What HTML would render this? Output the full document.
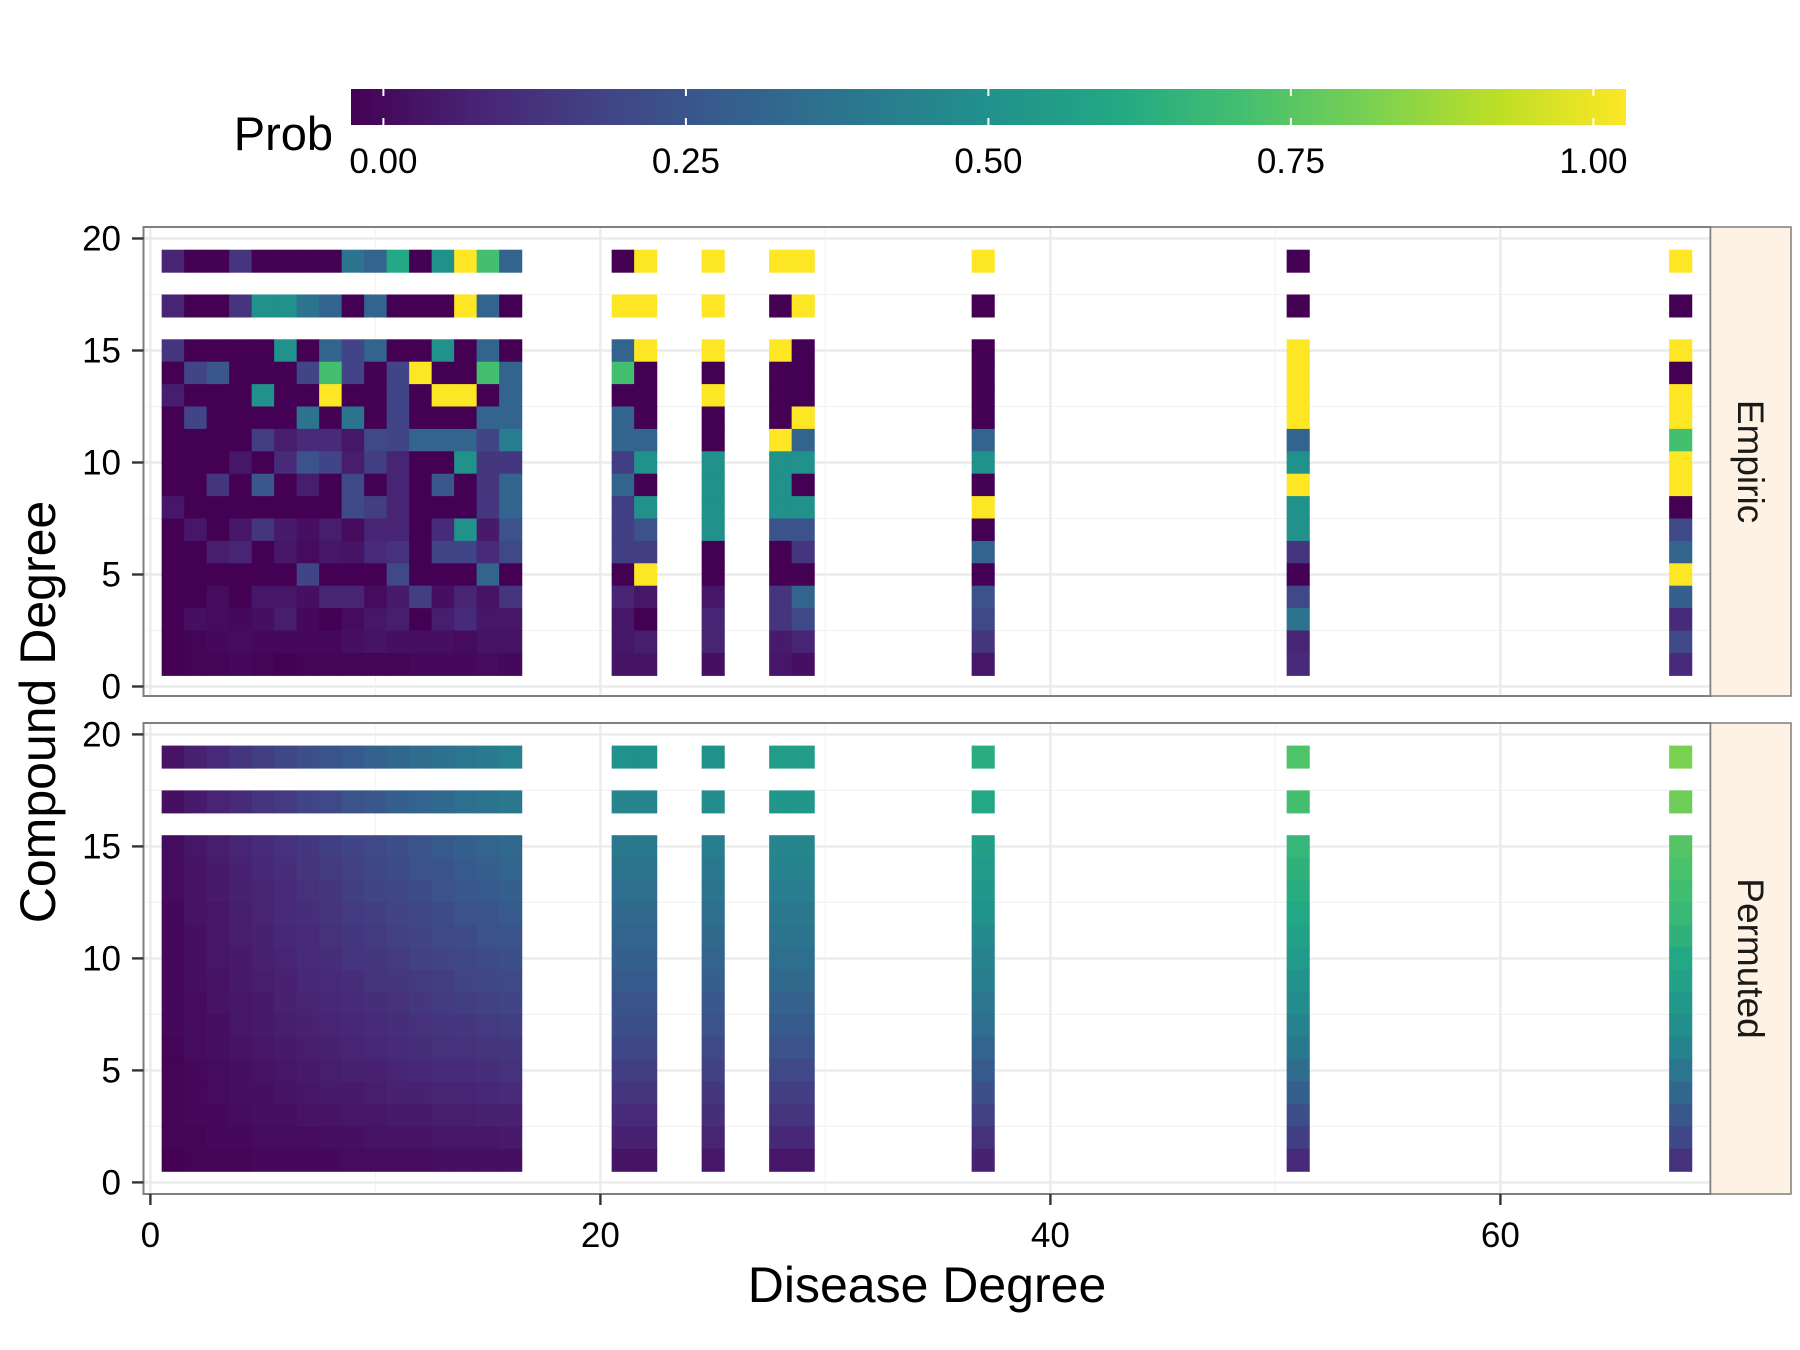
<!DOCTYPE html>
<html><head><meta charset="utf-8">
<style>
html,body{margin:0;padding:0;background:#fff;}
svg{display:block;font-family:"Liberation Sans",Arial,sans-serif;}
</style></head>
<body>
<svg id="chart" width="1800" height="1350" viewBox="0 0 1800 1350" xmlns="http://www.w3.org/2000/svg">
  <defs>
    <linearGradient id="vir" x1="0" x2="1" y1="0" y2="0">
      <stop offset="0" stop-color="#440154"/><stop offset="0.1" stop-color="#482475"/>
      <stop offset="0.2" stop-color="#414487"/><stop offset="0.3" stop-color="#355f8d"/>
      <stop offset="0.4" stop-color="#2a788e"/><stop offset="0.5" stop-color="#21918c"/>
      <stop offset="0.6" stop-color="#22a884"/><stop offset="0.7" stop-color="#44bf70"/>
      <stop offset="0.8" stop-color="#7ad151"/><stop offset="0.9" stop-color="#bddf26"/>
      <stop offset="1" stop-color="#fde725"/>
    </linearGradient>
  </defs>
  <g id="legend">
    <text x="333" y="150" font-size="47" text-anchor="end" fill="#000">Prob</text>
    <rect x="351" y="89" width="1275" height="36" fill="url(#vir)"/>
  </g>
  <g id="panels"></g>
  <text x="927" y="1302" font-size="50" text-anchor="middle" fill="#000">Disease Degree</text>
  <text transform="translate(55,712) rotate(-90)" font-size="50" text-anchor="middle" fill="#000">Compound Degree</text>
</svg>
<script>
const columns = [1,2,3,4,5,6,7,8,9,10,11,12,13,14,15,16,21,22,25,28,29,37,51,68];
const rows = [19,17,15,14,13,12,11,10,9,8,7,6,5,4,3,2,1];
const xTicks = [0,20,40,60];
const yTicks = [0,5,10,15,20];
const legendTicks = [0,0.25,0.5,0.75,1];
const legendLabels = ["0.00","0.25","0.50","0.75","1.00"];
const panelNames = ["Empiric","Permuted"];
const empiric = [
[.1,0,0,.15,0,0,0,0,.38,.32,.6,0,.5,1,.7,.32, 0,1,1,1,1,1,0,1],
[.1,0,0,.15,.5,.5,.38,.32,0,.32,0,0,0,1,.32,0, 1,1,1,0,1,0,0,0],
[.15,0,0,0,0,.5,0,.32,.2,.32,0,0,.5,0,.32,0, .32,1,1,1,0,0,1,1],
[0,.2,.27,0,0,0,.2,.7,.2,0,.2,1,0,0,.7,.32, .7,0,0,0,0,0,1,0],
[.08,0,0,0,.5,0,0,1,0,0,.2,0,1,1,0,.32, 0,0,1,0,0,0,1,1],
[0,.2,0,0,0,0,.38,0,.38,0,.2,0,0,0,.32,.32, .32,0,0,0,1,0,1,1],
[0,0,0,0,.18,.08,.12,.12,.06,.22,.2,.32,.32,.32,.2,.42, .32,.32,0,1,.32,.32,.32,.7],
[0,0,0,.06,0,.12,.25,.2,.08,.18,.1,0,0,.5,.16,.16, .18,.5,.5,.5,.5,.5,.5,1],
[0,0,.15,0,.27,0,.08,0,.22,0,.1,0,.27,0,.16,.32, .32,0,.5,.5,0,0,1,1],
[.06,0,0,0,0,0,0,0,.22,.18,.1,0,0,0,.16,.32, .18,.5,.5,.5,.5,1,.5,0],
[0,.06,0,.06,.15,.07,.04,.08,.03,.1,.1,0,.12,.5,.07,.25, .18,.25,.5,.25,.25,0,.5,.22],
[0,0,.08,.1,0,.06,.03,.06,.05,.12,.14,0,.2,.2,.12,.22, .18,.18,0,0,.15,.32,.15,.32],
[0,0,0,0,0,0,.2,0,0,0,.22,0,0,0,.32,0, 0,1,0,0,0,0,0,1],
[0,0,.03,0,.06,.06,.04,.1,.1,.03,.07,.18,.04,.1,.05,.15, .1,.06,.06,.15,.32,.25,.22,.3],
[0,.04,.03,.02,.04,.08,.02,0,.03,.06,.08,0,.08,.12,.06,.06, .06,0,.1,.15,.22,.22,.38,.12],
[0,.01,.02,.03,.02,.02,.02,.02,.04,.05,.04,.04,.04,.03,.05,.05, .06,.08,.1,.07,.1,.15,.1,.22],
[0,.01,.01,.02,.01,0,.01,.01,.01,.01,.01,.02,.02,.02,.03,.02, .05,.05,.04,.06,.04,.06,.12,.12]
];
const permuted = [
[.05,.09,.12,.15,.18,.21,.24,.26,.28,.31,.33,.35,.37,.39,.41,.43,.50,.50,.50,.55,.55,.62,.72,.80],
[.04,.07,.10,.12,.15,.17,.20,.22,.25,.27,.30,.32,.34,.36,.38,.40,.45,.45,.48,.52,.52,.60,.70,.78],
[.03,.06,.08,.10,.12,.14,.16,.18,.20,.22,.24,.26,.28,.30,.32,.34,.40,.40,.42,.46,.46,.56,.66,.73],
[.03,.05,.07,.09,.11,.13,.15,.17,.19,.21,.23,.25,.26,.28,.30,.32,.38,.38,.40,.44,.44,.54,.64,.71],
[.03,.05,.07,.09,.10,.12,.14,.16,.18,.20,.21,.23,.25,.27,.28,.30,.36,.36,.38,.42,.42,.52,.62,.69],
[.02,.05,.06,.08,.10,.12,.13,.15,.17,.18,.20,.21,.23,.25,.26,.28,.34,.34,.36,.40,.40,.50,.60,.67],
[.02,.04,.06,.08,.09,.11,.12,.14,.16,.17,.19,.20,.22,.23,.25,.26,.32,.32,.34,.38,.38,.47,.57,.64],
[.02,.04,.06,.07,.09,.10,.12,.13,.15,.16,.17,.19,.20,.21,.23,.24,.30,.30,.32,.36,.36,.44,.54,.60],
[.02,.04,.05,.07,.08,.09,.11,.12,.13,.15,.16,.17,.18,.20,.21,.22,.28,.28,.30,.34,.34,.42,.51,.57],
[.02,.03,.05,.06,.07,.09,.10,.11,.12,.13,.14,.16,.17,.18,.19,.20,.26,.26,.27,.31,.31,.39,.48,.53],
[.02,.03,.04,.06,.07,.08,.09,.10,.11,.12,.13,.14,.15,.16,.17,.18,.24,.24,.25,.28,.28,.36,.44,.49],
[.01,.03,.04,.05,.06,.07,.08,.09,.10,.11,.12,.13,.14,.14,.15,.16,.21,.21,.22,.25,.25,.32,.40,.44],
[.01,.02,.03,.04,.05,.06,.07,.08,.09,.09,.10,.11,.12,.12,.13,.14,.18,.18,.19,.22,.22,.28,.35,.39],
[.01,.02,.03,.04,.04,.05,.06,.07,.07,.08,.09,.09,.10,.10,.11,.12,.15,.15,.16,.18,.18,.24,.30,.33],
[.01,.02,.02,.03,.04,.04,.05,.05,.06,.06,.07,.07,.08,.08,.09,.09,.12,.12,.13,.15,.15,.19,.24,.27],
[.01,.01,.02,.02,.03,.03,.03,.04,.04,.05,.05,.05,.06,.06,.06,.07,.09,.09,.10,.11,.11,.14,.18,.21],
[.00,.01,.01,.01,.02,.02,.02,.02,.03,.03,.03,.03,.04,.04,.04,.04,.05,.05,.06,.06,.06,.09,.12,.14]
];

const NS = "http://www.w3.org/2000/svg";
const VIR = ["#440154","#482475","#414487","#355f8d","#2a788e","#21918c","#22a884","#44bf70","#7ad151","#bddf26","#fde725"];
function hex(h){return [1,3,5].map(i=>parseInt(h.substr(i,2),16));}
function viridis(v){
  v=Math.max(0,Math.min(1,v));
  const p=v*10, i=Math.min(9,Math.floor(p)), f=p-i;
  const a=hex(VIR[i]), b=hex(VIR[i+1]);
  return "rgb("+a.map((c,k)=>Math.round(c+(b[k]-c)*f)).join(",")+")";
}
function mk(tag, attrs, parent){
  const e=document.createElementNS(NS,tag);
  for(const k in attrs) e.setAttribute(k,attrs[k]);
  parent.appendChild(e); return e;
}
const svg=document.getElementById("chart");
const panelsG=document.getElementById("panels");
const legendG=document.getElementById("legend");
const X0=150.4, XU=22.5, PL=143.5, PR=1710.5;
const xs=v=>X0+v*XU;
const panels=[{top:227,bot:696,y0:686.5,data:empiric},{top:723,bot:1194,y0:1182.4,data:permuted}];

const lx=v=>383.4+v*(1593.4-383.4);
legendTicks.forEach((t,i)=>{
  const x=lx(t);
  const l1=mk("line",{x1:x,x2:x,y1:89,y2:96,stroke:"#fff","stroke-width":2},legendG);
  
  
  const l2=mk("line",{x1:x,x2:x,y1:118,y2:125,stroke:"#fff","stroke-width":2},legendG);
  
  
  const tx=mk("text",{x:x,y:173,"font-size":35,"text-anchor":"middle",fill:"#000"},legendG);
  tx.textContent=legendLabels[i];
  
  
});

panels.forEach((p,pi)=>{
  const ys=v=>p.y0-v*22.4;
  const g=mk("g",{},panelsG);
  
  
  [10,30,50].forEach(v=>{const l=mk("line",{x1:xs(v),x2:xs(v),y1:p.top,y2:p.bot,stroke:"#f4f4f4","stroke-width":1.2},g);
    });
  [2.5,7.5,12.5,17.5].forEach(v=>{const l=mk("line",{x1:PL,x2:PR,y1:ys(v),y2:ys(v),stroke:"#f4f4f4","stroke-width":1.2},g);
    });
  xTicks.forEach(v=>{const l=mk("line",{x1:xs(v),x2:xs(v),y1:p.top,y2:p.bot,stroke:"#ebebeb","stroke-width":2.4},g);
    });
  yTicks.forEach(v=>{const l=mk("line",{x1:PL,x2:PR,y1:ys(v),y2:ys(v),stroke:"#ebebeb","stroke-width":2.4},g);
    });
  rows.forEach((r,ri)=>{
    columns.forEach((c,ci)=>{
      const v=p.data[ri][ci];
      const x1=xs(c-0.5), x2=xs(c+0.5), y1=ys(r+0.5), y2=ys(r-0.5);
      const t=mk("rect",{x:x1,y:y1,width:x2-x1+0.6,height:y2-y1+0.6,fill:viridis(v)},g);
      
      
    });
  });
  const b=mk("rect",{x:PL,y:p.top,width:PR-PL,height:p.bot-p.top,fill:"none",stroke:"#7f7f7f","stroke-width":2},g);
  
  
  const s=mk("rect",{x:PR,y:p.top,width:1791-PR,height:p.bot-p.top,fill:"#fdf2e3",stroke:"#7f7f7f","stroke-width":1.5},g);
  
  
  const st=mk("text",{transform:"translate(1738,"+((p.top+p.bot)/2)+") rotate(90)","font-size":37,"text-anchor":"middle",fill:"#1a1a1a"},g);
  st.textContent=panelNames[pi];
  
  
  yTicks.forEach(v=>{
    const l=mk("line",{x1:132,x2:PL,y1:ys(v),y2:ys(v),stroke:"#333","stroke-width":2.4},g);
    
    
    const t=mk("text",{x:121,y:ys(v)+12,"font-size":35,"text-anchor":"end",fill:"#000"},g);
    t.textContent=String(v);
    
    
  });
});
xTicks.forEach(v=>{
  const l=mk("line",{x1:xs(v),x2:xs(v),y1:1194,y2:1205,stroke:"#333","stroke-width":2.4},svg);
  
  
  const t=mk("text",{x:xs(v),y:1247,"font-size":35,"text-anchor":"middle",fill:"#000"},svg);
  t.textContent=String(v);
  
  
});
</script>
</body></html>
